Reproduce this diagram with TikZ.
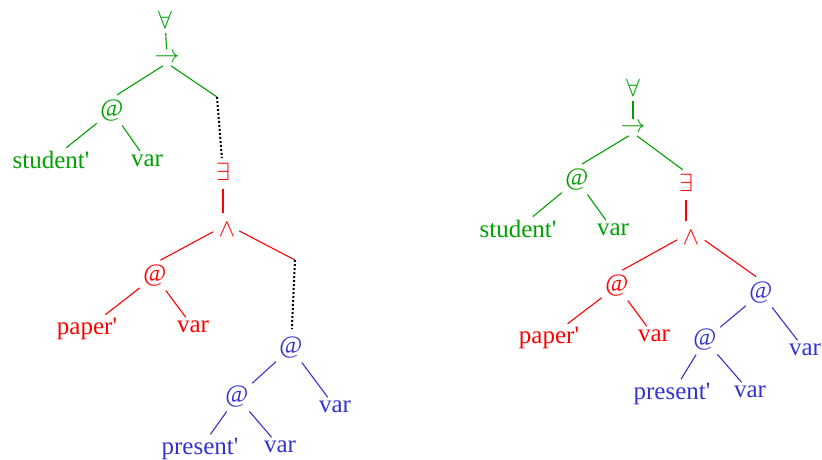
\documentclass[tikz,border=0pt]{standalone}
\usepackage{fontspec}
\setmainfont{Liberation Serif}
\usepackage{tikz}
\usetikzlibrary{positioning}
\definecolor{tgreen}{RGB}{0,160,0}
\definecolor{tred}{RGB}{255,0,0}
\definecolor{tblue}{RGB}{51,51,204}

\begin{document}
\begin{tikzpicture}[
  x=1pt, y=-1pt,
  lbl/.style={inner sep=2pt, font=\fontsize{25}{30}\selectfont},
  edge/.style={line width=1.1pt, shorten <=2pt, shorten >=2pt},
  gap/.style={line width=2pt, dash pattern=on 2pt off 2pt, black}
]
\useasboundingbox (0,0) rectangle (822,459);

% left tree: scope of the existential inside the implication
\node[lbl, tgreen] (fa1) at (165,20) {$\forall$};
\node[lbl, tgreen] (imp1) at (167,58) {$\rightarrow$};
\node[lbl, tgreen] (sa1) at (112,111) {@};
\node[lbl, tgreen] (st1) at (51,160) {student\textquotesingle};
\node[lbl, tgreen] (sv1) at (147,161) {var};
\coordinate (j1) at (217,97);
\node[lbl, tred] (ex1) at (223,172) {$\exists$};
\node[lbl, tred] (and1) at (227,230) {$\wedge$};
\node[lbl, tred] (pa1) at (155,276) {@};
\node[lbl, tred] (pp1) at (87,329) {paper\textquotesingle};
\node[lbl, tred] (pv1) at (193,327) {var};
\coordinate (j2) at (295,260);
\node[lbl, tblue] (bat1) at (291,348) {@};
\node[lbl, tblue] (bv1) at (335,407) {var};
\node[lbl, tblue] (bat2) at (237,397) {@};
\node[lbl, tblue] (pr2) at (200,449) {present\textquotesingle};
\node[lbl, tblue] (bv2) at (280,447) {var};

\draw[edge, tgreen] (fa1) -- (imp1);
\draw[edge, tgreen, shorten >=6pt] (imp1.-110) -- (sa1.north);
\draw[edge, tgreen, shorten >=0pt] (imp1.-70) -- (j1);
\draw[edge, tgreen] (sa1) -- (st1);
\draw[edge, tgreen] (sa1) -- (sv1);
\draw[gap, shorten >=3pt] (j1) -- (ex1);
\draw[edge, tred, shorten <=6pt, shorten >=8pt] (ex1.south) -- (ex1.south |- and1.north);
\draw[edge, tred, shorten <=4pt, shorten >=6pt] (and1.west) -- (pa1.north);
\draw[edge, tred, shorten >=0pt] (and1.east) -- (j2);
\draw[edge, tred] (pa1) -- (pp1);
\draw[edge, tred] (pa1) -- (pv1);
\draw[gap, shorten >=6pt] (j2) -- (bat1);
\draw[edge, tblue] (bat1) -- (bat2);
\draw[edge, tblue] (bat1) -- (bv1);
\draw[edge, tblue] (bat2) -- (pr2);
\draw[edge, tblue] (bat2) -- (bv2);

% right tree: the same reading after lowering
\node[lbl, tgreen] (fa2) at (633,88) {$\forall$};
\node[lbl, tgreen] (imp2) at (633,128) {$\rightarrow$};
\node[lbl, tgreen] (sa2) at (577,180) {@};
\node[lbl, tgreen] (st2) at (518,229) {student\textquotesingle};
\node[lbl, tgreen] (sv2) at (613,230) {var};
\node[lbl, tred] (ex2) at (686,183) {$\exists$};
\node[lbl, tred] (and2) at (691,238) {$\wedge$};
\node[lbl, tred] (pa2) at (617,286) {@};
\node[lbl, tred] (pp2) at (549,338) {paper\textquotesingle};
\node[lbl, tred] (pv2) at (654,336) {var};
\node[lbl, tblue] (bat3) at (761,293) {@};
\node[lbl, tblue] (bv3) at (805,350) {var};
\node[lbl, tblue] (bat4) at (705,340) {@};
\node[lbl, tblue] (pr4) at (672,394) {present\textquotesingle};
\node[lbl, tblue] (bv4) at (750,392) {var};

\draw[edge, tgreen] (fa2) -- (imp2);
\draw[edge, tgreen, shorten >=6pt] (imp2.-110) -- (sa2.north);
\draw[edge, tgreen, shorten >=4pt] (imp2.-70) -- (ex2.north);
\draw[edge, tgreen] (sa2) -- (st2);
\draw[edge, tgreen] (sa2) -- (sv2);
\draw[edge, tred, shorten <=6pt, shorten >=8pt] (ex2.south) -- (ex2.south |- and2.north);
\draw[edge, tred, shorten <=4pt, shorten >=6pt] (and2.west) -- (pa2.north);
\draw[edge, tred, shorten <=4pt, shorten >=6pt] (and2.east) -- (bat3.north);
\draw[edge, tred] (pa2) -- (pp2);
\draw[edge, tred] (pa2) -- (pv2);
\draw[edge, tblue] (bat3) -- (bat4);
\draw[edge, tblue] (bat3) -- (bv3);
\draw[edge, tblue] (bat4) -- (pr4);
\draw[edge, tblue] (bat4) -- (bv4);
\end{tikzpicture}
\end{document}
